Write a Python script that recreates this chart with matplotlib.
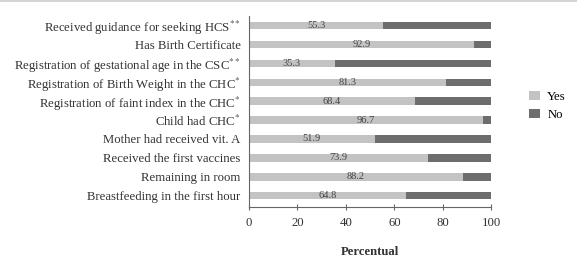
import matplotlib
matplotlib.use('Agg')
import matplotlib.pyplot as plt
from matplotlib.lines import Line2D

plt.rcParams['font.family'] = ['Liberation Serif', 'DejaVu Serif']
plt.rcParams['mathtext.fontset'] = 'stix'

# data
categories = [
    r'Received guidance for seeking HCS$^{**}$',
    'Has Birth Certificate',
    r'Registration of gestational age in the CSC$^{**}$',
    r"Registration of Birth Weight in the CHC$^{*}$",
    r"Registration of faint index in the CHC$^{*}$",
    r'Child had CHC$^{*}$',
    'Mother had received vit. A',
    'Received the first vaccines',
    'Remaining in room',
    'Breastfeeding in the first hour',
]
yes = [55.3, 92.9, 35.3, 81.3, 68.4, 96.7, 51.9, 73.9, 88.2, 64.8]
no = [100 - v for v in yes]

c_yes = '#c3c3c3'
c_no = '#6d6d6d'

fig = plt.figure(figsize=(5.77, 2.65), dpi=100)
ax = fig.add_axes([0.4315, 0.219, 0.42, 0.72])

pos = list(range(len(categories)))
ax.barh(pos, yes, height=0.4, color=c_yes, label='Yes')
ax.barh(pos, no, left=yes, height=0.4, color=c_no, label='No')

for p, v in zip(pos, yes):
    ax.text(v / 2, p, f'{v:.1f}', ha='center', va='center', fontsize=7.5, color='#444444')

ax.set_yticks(pos)
ax.set_yticklabels(categories, fontsize=9.2, color='#333333')
ax.tick_params(axis='y', length=0, pad=6)
ax.set_ylim(9.6, -0.5)
ax.set_xlim(0, 100)
ax.set_xticks([0, 20, 40, 60, 80, 100])
ax.tick_params(axis='x', direction='inout', length=5, labelsize=9.2, colors='#333333',
               color='#666666', pad=5)
ax.set_xlabel('Percentual', fontsize=9.2, fontweight='bold', color='#333333', labelpad=12)

for s in ['top', 'right']:
    ax.spines[s].set_visible(False)
ax.spines['left'].set_color('#666666')
ax.spines['bottom'].set_color('#666666')

ax.legend(loc='center left', bbox_to_anchor=(1.11, 0.53), frameon=False, fontsize=9.2,
          handlelength=0.8, handleheight=0.8, labelspacing=0.45, handletextpad=0.6)

fig.add_artist(Line2D([0, 1], [0.996, 0.996], color='#cccccc', lw=1.2))

fig.savefig('out.png', dpi=100)
